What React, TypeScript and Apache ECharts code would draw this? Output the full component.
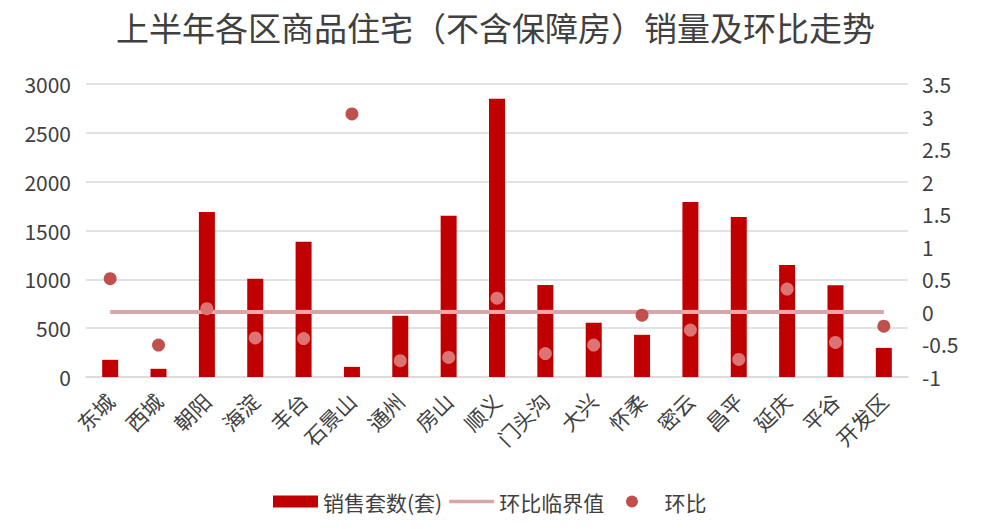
import React, { useEffect, useRef } from "react";
import * as echarts from "echarts";

const categories = ["东城", "西城", "朝阳", "海淀", "丰台", "石景山", "通州", "房山", "顺义", "门头沟", "大兴", "怀柔", "密云", "昌平", "延庆", "平谷", "开发区"];
const sales = [176, 84, 1690, 1005, 1385, 104, 628, 1650, 2848, 942, 555, 432, 1792, 1638, 1148, 940, 298];
const threshold = [0, 0, 0, 0, 0, 0, 0, 0, 0, 0, 0, 0, 0, 0, 0, 0, 0];
const momRatio = [0.51, -0.51, 0.05, -0.4, -0.41, 3.04, -0.75, -0.7, 0.21, -0.64, -0.51, -0.05, -0.28, -0.73, 0.35, -0.47, -0.22];

const leftMin = 0, leftMax = 3000, leftInterval = 500;
const rightMin = -1, rightMax = 3.5, rightInterval = 0.5;

const FONT = "'Noto Sans CJK SC', 'Noto Sans', sans-serif";
const TEXT = "#404040";
const BAR = "#c00000";
const LINE = "#d6a6ab";
const LINE_ON_BAR = "#f3a5a7";
const DOT = "#c0504d";
const DOT_ON_BAR = "#dc7474";
const BAR_W = 16;

const DOT_ICON = "path://M0,0 M45,12 M16,6 A6.5,6.5 0 1,1 29,6 A6.5,6.5 0 1,1 16,6 Z";

function rightToLeft(v: number) {
  return ((v - rightMin) / (rightMax - rightMin)) * (leftMax - leftMin) + leftMin;
}

export default function App() {
  const ref = useRef<HTMLDivElement>(null);
  useEffect(() => {
    if (!ref.current) return;
    const chart = echarts.init(ref.current, null, { renderer: "svg" });
    const thrLeft = rightToLeft(threshold[0]);
    chart.setOption({
      animation: false,
      backgroundColor: "#ffffff",
      textStyle: { fontFamily: FONT },
      title: {
        text: "上半年各区商品住宅（不含保障房）销量及环比走势",
        left: "center",
        top: 5,
        textStyle: { fontFamily: FONT, fontSize: 33, fontWeight: "normal", color: TEXT },
      },
      legend: {
        left: 268,
        top: 486,
        itemWidth: 45,
        itemHeight: 12,
        itemGap: 7,
        textStyle: { fontFamily: FONT, fontSize: 21, color: TEXT },
        data: [
          { name: "销售套数(套)", icon: "rect", itemStyle: { color: BAR } },
          { name: "环比临界值", icon: "path://M0,0 H50 V4 H0 Z", itemStyle: { color: LINE } },
          { name: "环比", icon: DOT_ICON, itemStyle: { color: DOT }, textStyle: { padding: [0, 0, 0, 5] } },
        ],
      },
      grid: { left: 86, right: 83, top: 84, bottom: 152 },
      xAxis: {
        type: "category",
        data: categories,
        axisLine: { show: true, lineStyle: { color: "#d9d9d9", width: 1.5 } },
        axisTick: { show: false },
        axisLabel: { interval: 0, rotate: 45, margin: 20, fontFamily: FONT, fontSize: 21, color: TEXT },
      },
      yAxis: [
        {
          type: "value",
          min: leftMin,
          max: leftMax,
          interval: leftInterval,
          axisLine: { show: false },
          axisTick: { show: false },
          splitLine: { lineStyle: { color: "#d9d9d9", width: 1.5 } },
          axisLabel: { margin: 15, fontFamily: FONT, fontSize: 21, color: TEXT, formatter: (v: number) => String(v) },
        },
        {
          type: "value",
          min: rightMin,
          max: rightMax,
          interval: rightInterval,
          axisLine: { show: false },
          axisTick: { show: false },
          splitLine: { show: false },
          axisLabel: { margin: 14, fontFamily: FONT, fontSize: 21, color: TEXT, formatter: (v: number) => String(v) },
        },
      ],
      series: [
        {
          name: "销售套数(套)",
          type: "bar",
          data: sales,
          barWidth: BAR_W,
          itemStyle: { color: BAR },
          z: 2,
        },
        {
          name: "环比临界值",
          type: "line",
          yAxisIndex: 1,
          data: threshold,
          symbol: "none",
          showSymbol: false,
          lineStyle: { color: LINE, width: 4 },
          itemStyle: { color: LINE },
          z: 3,
        },
        {
          name: "overlay",
          type: "custom",
          yAxisIndex: 0,
          data: sales.map((v, i) => [i, v]),
          silent: true,
          z: 4,
          renderItem: (params: any, api: any) => {
            const idx = api.value(0);
            const val = api.value(1);
            if (val <= thrLeft) return null;
            const p = api.coord([idx, thrLeft]);
            return {
              type: "rect",
              shape: { x: p[0] - BAR_W / 2, y: p[1] - 2, width: BAR_W, height: 4 },
              style: { fill: LINE_ON_BAR },
            };
          },
        },
        {
          name: "环比",
          type: "scatter",
          yAxisIndex: 1,
          data: momRatio,
          symbolSize: 13,
          z: 5,
          itemStyle: {
            opacity: 1,
            color: (p: any) => {
              const i = p.dataIndex;
              return rightToLeft(momRatio[i]) < sales[i] ? DOT_ON_BAR : DOT;
            },
          },
        },
      ],
    });
    return () => chart.dispose();
  }, []);
  return <div ref={ref} style={{ position: "fixed", left: 0, top: 0, width: 991, height: 529 }} />;
}
